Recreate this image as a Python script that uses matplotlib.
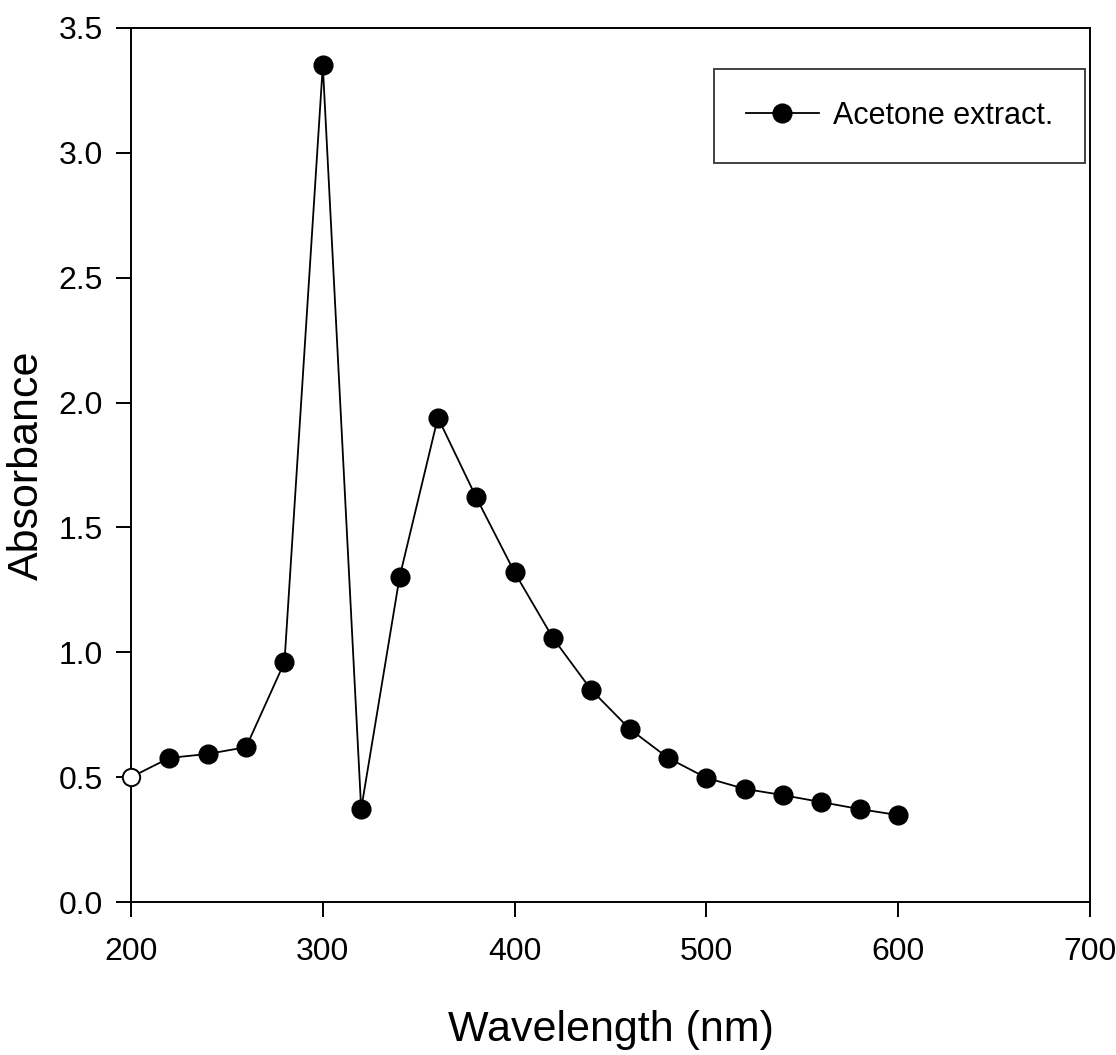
import matplotlib
matplotlib.use("Agg")
import matplotlib.pyplot as plt
from matplotlib.lines import Line2D
import numpy as np

plt.rcParams["font.family"] = ["Liberation Sans", "DejaVu Sans"]

# Data
wavelength = [200, 220, 240, 260, 280, 300, 320, 340, 360, 380, 400,
              420, 440, 460, 480, 500, 520, 540, 560, 580, 600]
absorbance = [0.50, 0.577, 0.593, 0.62, 0.96, 3.35, 0.372, 1.30, 1.94, 1.62, 1.32,
              1.057, 0.849, 0.693, 0.577, 0.497, 0.453, 0.428, 0.40, 0.372, 0.348]
series_label = "Acetone extract."
xticks = [200, 300, 400, 500, 600, 700]
yticks = [0.0, 0.5, 1.0, 1.5, 2.0, 2.5, 3.0, 3.5]

fig = plt.figure(figsize=(11.16, 10.55), dpi=100)
ax = fig.add_axes((0.1174, 0.145, 0.8593, 0.8285))

ax.plot(wavelength, absorbance, color="black", linewidth=1.3, zorder=2)
# the point sitting on the axis edge is drawn hollow in the original
ax.plot(wavelength[:1], absorbance[:1], linestyle="none", marker="o",
        markersize=12.5, markerfacecolor="white", markeredgecolor="black",
        markeredgewidth=1.4, clip_on=False, zorder=3)
ax.plot(wavelength[1:], absorbance[1:], linestyle="none", marker="o",
        markersize=13.5, color="black", zorder=3)

ax.set_xlim(200, 700)
ax.set_ylim(0, 3.5)
ax.set_xticks(xticks)
ax.set_yticks(yticks)
ax.set_yticklabels([f"{v:.1f}" for v in yticks])
ax.tick_params(direction="out", length=11, width=1.4, labelsize=23)
ax.tick_params(axis="x", pad=14)
ax.tick_params(axis="y", pad=9)
for s in ax.spines.values():
    s.set_linewidth(1.4)

ax.set_xlabel("Wavelength (nm)", fontsize=31)
ax.set_ylabel("Absorbance", fontsize=31)
ax.xaxis.set_label_coords(0.5, -0.124)
ax.yaxis.set_label_coords(-0.088, 0.5)

handle = Line2D([], [], color="black", linewidth=1.3, marker="o", markersize=13.5)
leg = ax.legend([handle], [series_label], loc="upper right", fontsize=22,
                bbox_to_anchor=(0.995, 0.953), borderaxespad=0, frameon=True,
                fancybox=False, edgecolor="black", handlelength=2.4,
                borderpad=1.05, handletextpad=0.45)
leg.get_frame().set_linewidth(1.3)

fig.savefig("out.png", dpi=100)
